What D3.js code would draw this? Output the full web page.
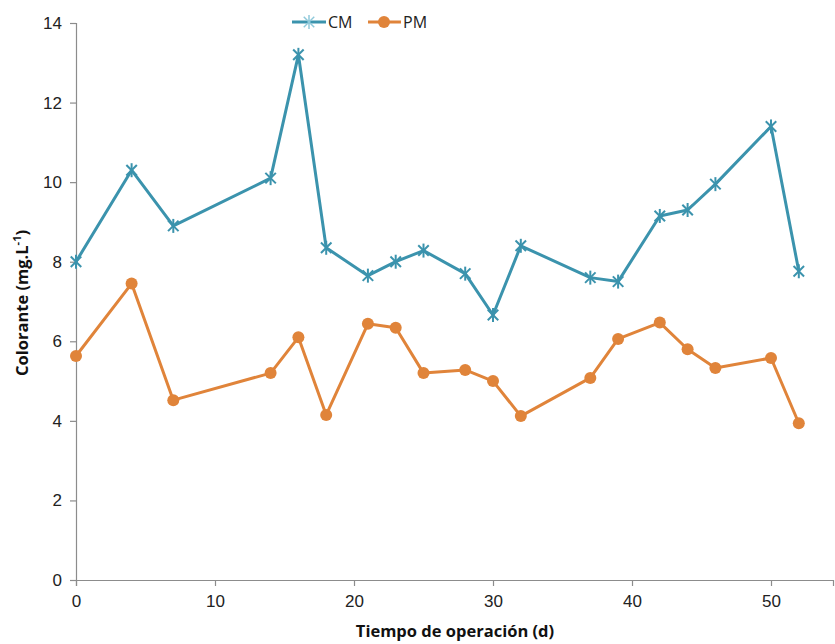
<!DOCTYPE html>
<html><head><meta charset="utf-8">
<script src="https://cdn.jsdelivr.net/npm/d3@7"></script>
<style>body{margin:0;background:#fff}svg{display:block}</style>
</head><body>
<svg id="c" width="835" height="644"></svg>
<script>
const days = [0,4,7,14,16,18,21,23,25,28,30,32,37,39,42,44,46,50,52];
const cmValues = [8.0,10.3,8.9,10.1,13.2,8.35,7.65,8.0,8.28,7.7,6.66,8.4,7.6,7.5,9.15,9.3,9.95,11.4,7.76];
const pmValues = [5.63,7.45,4.52,5.2,6.1,4.15,6.44,6.34,5.2,5.28,5.0,4.12,5.08,6.06,6.47,5.8,5.33,5.58,3.94];
const yTicks = [0,2,4,6,8,10,12,14];
const xTicks = [0,10,20,30,40,50];
const seriesNames = ["CM","PM"];

const svg = d3.select("#c");
const x = d3.scaleLinear().domain([0,54.46]).range([76,833]);
const y = d3.scaleLinear().domain([0,14]).range([580,23]);
const cmColor = "#3b93ad", pmColor = "#e0843a";
const tickFont = "'Liberation Sans Narrow','Arial Narrow',sans-serif";

// axes
const yAxis = svg.append("g").attr("transform","translate(76,0)")
  .call(d3.axisLeft(y).tickValues(yTicks).tickSize(6).tickPadding(8).tickFormat(d3.format("d")));
const xAxis = svg.append("g").attr("transform","translate(0,580)")
  .call(d3.axisBottom(x).tickValues(xTicks).tickSize(6).tickPadding(9).tickFormat(d3.format("d")));
[yAxis,xAxis].forEach(a=>{
  a.selectAll("path,line").attr("stroke","#8c8c8c").attr("stroke-width",1.2);
  a.selectAll("text").attr("font-family",tickFont).attr("font-size",17).attr("fill","#222");
});

// lines
const line = (vals)=>d3.line().x((d,i)=>x(days[i])).y(d=>y(d))(vals);
svg.append("path").attr("d",line(cmValues)).attr("fill","none").attr("stroke",cmColor).attr("stroke-width",3).attr("stroke-linejoin","round");
svg.append("path").attr("d",line(pmValues)).attr("fill","none").attr("stroke",pmColor).attr("stroke-width",3).attr("stroke-linejoin","round");

function star(g, cx, cy, r, color, w){
  const s = g.append("g").attr("transform",`translate(${cx},${cy})`);
  s.append("line").attr("x1",0).attr("x2",0).attr("y1",-r).attr("y2",r).attr("stroke",color).attr("stroke-width",w);
  const d = r*0.75;
  s.append("line").attr("x1",-d).attr("y1",-d).attr("x2",d).attr("y2",d).attr("stroke",color).attr("stroke-width",w);
  s.append("line").attr("x1",-d).attr("y1",d).attr("x2",d).attr("y2",-d).attr("stroke",color).attr("stroke-width",w);
}
const markers = svg.append("g");
cmValues.forEach((v,i)=>star(markers, x(days[i]), y(v), 7, cmColor, 2));
pmValues.forEach((v,i)=>markers.append("circle").attr("cx",x(days[i])).attr("cy",y(v)).attr("r",6).attr("fill",pmColor));

// legend
const lg = svg.append("g").attr("font-family","'Open Sans',sans-serif").attr("font-size",16).attr("fill","#222");
lg.append("line").attr("x1",292).attr("x2",326).attr("y1",22).attr("y2",22).attr("stroke",cmColor).attr("stroke-width",3);
star(lg,309,22,7,"#8fc9da",1.5);
lg.append("text").attr("x",328).attr("y",28).text(seriesNames[0]);
lg.append("line").attr("x1",368).attr("x2",401).attr("y1",22).attr("y2",22).attr("stroke",pmColor).attr("stroke-width",3);
lg.append("circle").attr("cx",384).attr("cy",22).attr("r",6).attr("fill",pmColor);
lg.append("text").attr("x",403).attr("y",28).text(seriesNames[1]);

// axis titles
const yt = svg.append("text").attr("transform","translate(28,303) rotate(-90)").attr("text-anchor","middle")
  .attr("font-family","'Open Sans',sans-serif").attr("font-weight","bold").attr("font-size",16.5).attr("fill","#111");
yt.append("tspan").text("Colorante  (mg.L");
yt.append("tspan").attr("dy",-7).attr("font-size",11).text("-1");
yt.append("tspan").attr("dy",7).text(")");
svg.append("text").attr("x",455).attr("y",637).attr("text-anchor","middle")
  .attr("font-family","'Open Sans',sans-serif").attr("font-weight","bold").attr("font-size",16.5).attr("fill","#111")
  .text("Tiempo de operación (d)");
</script>
</body></html>
